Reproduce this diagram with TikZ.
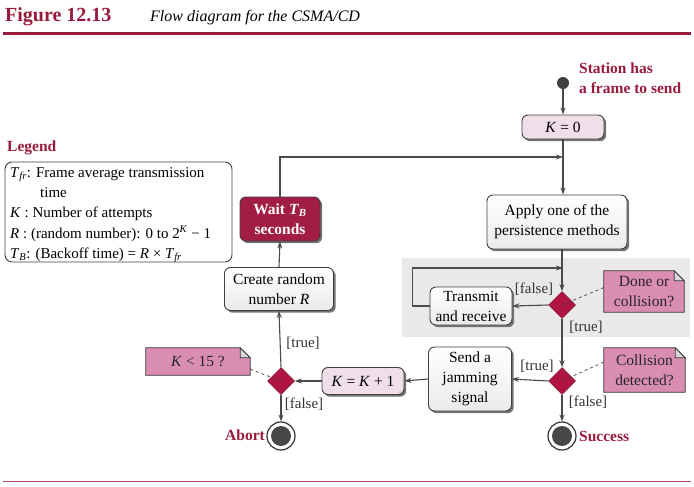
\documentclass[tikz,border=0pt]{standalone}
\usepackage{fontspec}
\setmainfont{Liberation Serif}
\usetikzlibrary{shapes.geometric,shadows,arrows.meta}
\definecolor{maroon}{HTML}{9A1A3C}
\definecolor{dfill}{HTML}{B01443}
\definecolor{wfill}{HTML}{A21D45}
\definecolor{notepink}{HTML}{DA8DB3}
\definecolor{lightpink}{HTML}{F0DEE9}
\definecolor{lgray}{HTML}{4A4A4A}
\definecolor{zone}{HTML}{E9E9E9}
\newcommand\vi[1]{\textit{#1}}
\newcommand\vsub[2]{\textit{#1}\textsubscript{\textit{#2}}}
\begin{document}
\begin{tikzpicture}[x=1pt,y=-1pt,
  every node/.style={font=\fontsize{15.5}{20}\selectfont},
  arr/.style={draw=lgray,line width=1.1pt,-{Stealth[length=7pt,width=5pt]}},
  box/.style={draw=black!75,line width=0.9pt,rounded corners=6pt,align=center,inner sep=2pt,
    top color=white,bottom color=black!8,
    drop shadow={shadow xshift=2.2pt,shadow yshift=-2.2pt,fill=black!55,opacity=1}},
  pbox/.style={box,top color=lightpink,bottom color=lightpink},
  dia/.style={diamond,fill=dfill,draw=dfill!70!black,line width=0.5pt,minimum width=27pt,minimum height=27pt,inner sep=0pt},
  notebox/.style={inner sep=0pt,align=center,text=black!85},
  lbl/.style={text=black!80,inner sep=0pt,font=\fontsize{15}{18}\selectfont},
  endc/.style={circle,draw=black!80,line width=1.2pt,fill=white,minimum size=28pt,inner sep=0pt},
  redt/.style={text=maroon,font=\fontsize{15.5}{20}\selectfont\bfseries,inner sep=0pt},
  legt/.style={anchor=base west,inner sep=0pt,font=\fontsize{15}{18}\selectfont},
]
\useasboundingbox (0,0) rectangle (694,487);
% title and rules
\node[anchor=base west,inner sep=0pt,text=maroon,font=\fontsize{20}{20}\selectfont\bfseries] (fig) at (5,22) {Figure 12.13};
\node[anchor=base west,inner sep=0pt,font=\fontsize{16}{16}\selectfont\itshape] (cap) at (150,22) {Flow diagram for the CSMA/CD};
\fill[maroon] (3,32) rectangle (691,35.5);
\fill[maroon!80] (3,480.5) rectangle (691,482);
% shaded zone
\fill[zone] (402,258) rectangle (690,337);
% start
\node[circle,fill=black!75,minimum size=12pt,inner sep=0pt] (start) at (563,83) {};
\node[redt,anchor=north west,align=left] (st) at (579,63) {Station has\\a frame to send};
% boxes
\node[pbox,minimum width=82pt,minimum height=24pt] (k0) at (563,127) {\vi{K} = 0};
\node[box,minimum width=140pt,minimum height=54pt] (apply) at (557,222) {Apply one of the\\persistence methods};
\node[dia] (d1) at (562,305) {};
\node[box,minimum width=82pt,minimum height=38pt] (trans) at (471,306) {Transmit\\and receive};
\node[dia] (d2) at (562,381) {};
\node[box,minimum width=83pt,minimum height=64pt] (jam) at (470,379) {Send a\\jamming\\signal};
\node[pbox,minimum width=82pt,minimum height=27pt] (kk) at (363,381) {\vi{K} = \vi{K} + 1};
\node[dia] (d3) at (281,381) {};
\node[box,minimum width=109pt,minimum height=43pt] (create) at (279,289) {Create random\\number \vi{R}};
\node[box,fill=wfill,top color=wfill,bottom color=wfill,text=white,font=\fontsize{15.5}{20}\selectfont\bfseries,minimum width=80pt,minimum height=44pt] (wait) at (280,219) {Wait \vsub{T}{B}\\seconds};
% end states
\node[endc] (abort) at (281,436) {};
\fill[black!72] (abort.center) circle (10pt);
\node[endc] (succ) at (562,436) {};
\fill[black!72] (succ.center) circle (10pt);
\node[redt,anchor=east] (abl) at (265,435) {Abort};
\node[redt,anchor=west] (sul) at (579,436) {Success};
% notes
\node[notebox,minimum width=80pt,minimum height=41pt] (n1) at (644,291.5) {};
\node[notebox,minimum width=81pt,minimum height=44pt] (n2) at (644.5,370) {};
\node[notebox,minimum width=104pt,minimum height=27pt] (n3) at (198,361.5) {};
\foreach \n in {n1,n2,n3}{
  \filldraw[fill=notepink,draw=black!80,line width=0.8pt] (\n.south west) -- (\n.north west) -- ([xshift=-10pt]\n.north east) -- ([yshift=-10pt]\n.north east) -- (\n.south east) -- cycle;
  \filldraw[fill=black!15,draw=black!80,line width=0.8pt] ([xshift=-10pt]\n.north east) -- ([xshift=-10pt,yshift=-10pt]\n.north east) -- ([yshift=-10pt]\n.north east) -- cycle;
}
\node[notebox] (t1) at (n1) {Done or\\collision?};
\node[notebox] (t2) at (n2) {Collision\\detected?};
\node[notebox] (t3) at (n3) {\vi{K} < 15 ?};
% connectors
\coordinate (j1) at (563,157);
\coordinate (j2) at (563,268);
\draw[arr] (start) -- (k0);
\draw[arr] (k0) -- (k0 |- apply.north);
\draw[arr] (wait.north) |- (j1);
\draw[arr] (d1 |- apply.south) -- (d1.north);
\draw[arr] (d1.west) -- (trans.east);
\draw[arr] (trans.west) -- ++(-17,0) |- (j2);
\draw[arr] (d1.south) -- (d2.north);
\draw[arr] (d2.west) -- (jam.east);
\draw[arr] (d2.south) -- (succ.north);
\draw[arr] (jam.west) -- (kk.east);
\draw[arr] (kk.west) -- (d3.east);
\draw[arr] (d3.north) -- (create.south);
\draw[arr] (d3.south) -- (abort.north);
\draw[arr] (create.north) -- (wait.south);
% dashed note links
\draw[dashed,black!75,line width=0.7pt] (n1.west) ++(0,-4) -- (d1.center);
\draw[dashed,black!75,line width=0.7pt] (n2.west) ++(0,-8) -- (d2.center);
\draw[dashed,black!75,line width=0.7pt] (n3.south east) ++(0,-6) -- (d3.center);
% guard labels
\node[lbl] (g1) at (534,289) {[false]};
\node[lbl] (g2) at (586,327) {[true]};
\node[lbl] (g3) at (537,366) {[true]};
\node[lbl] (g4) at (588,402) {[false]};
\node[lbl] (g5) at (303,343) {[true]};
\node[lbl] (g6) at (304,404) {[false]};
% legend
\node[redt,anchor=west] (leg) at (7,148) {Legend};
\draw[black!75,line width=0.9pt,rounded corners=7pt] (5,162) rectangle (232,262);
\node[legt] (l1) at (10,177) {\vsub{T}{fr}: Frame average transmission};
\node[legt] (l2) at (40,197) {time};
\node[legt] (l3) at (10,217) {\vi{K} : Number of attempts};
\node[legt] (l4) at (10,238) {\vi{R} : (random number): 0 to 2\textsuperscript{\vi{K}} − 1};
\node[legt] (l5) at (10,258) {\vsub{T}{B}: (Backoff time) = \vi{R} × \vsub{T}{fr}};
\end{tikzpicture}
\end{document}
